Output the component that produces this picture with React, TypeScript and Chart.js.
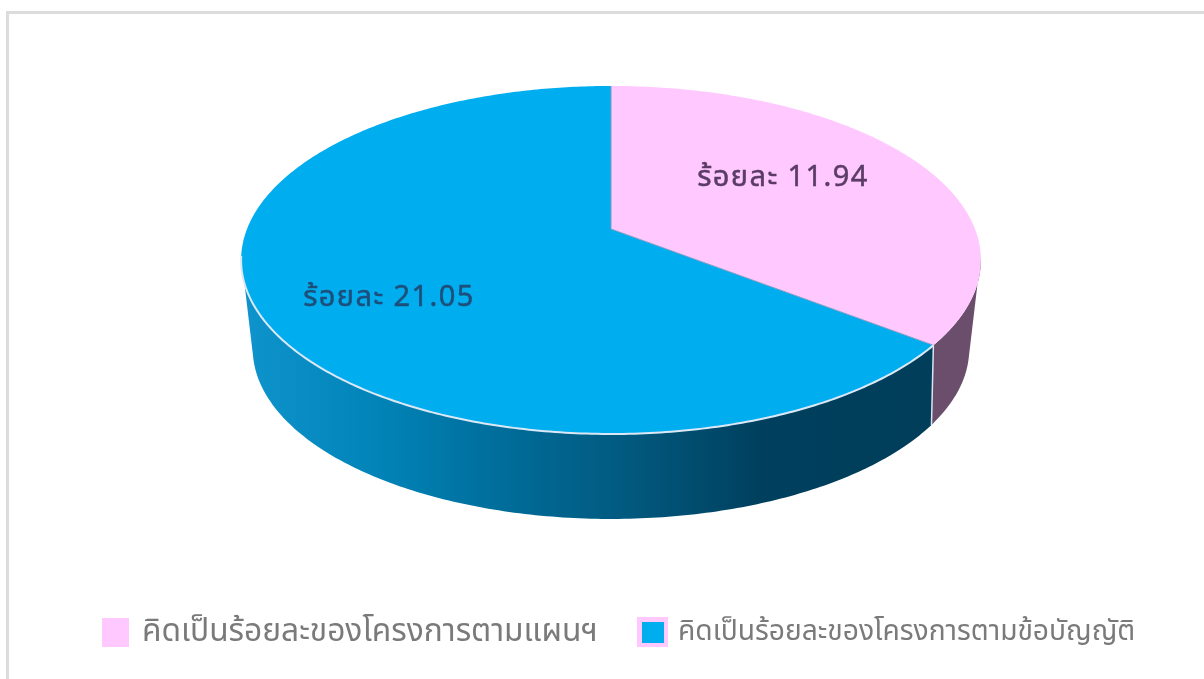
import React, { useEffect, useRef } from "react";
import { Chart, registerables } from "chart.js";

Chart.register(...registerables);

const categories = ["คิดเป็นร้อยละของโครงการตามแผนฯ", "คิดเป็นร้อยละของโครงการตามข้อบัญญัติ"];
const percentValues = [11.94, 21.05];
const sliceColors = ["#ffc9ff", "#00aeef"];
const labelPrefix = "ร้อยละ";

const FONT = '"Noto Sans", "Noto Sans Thai", "Noto Sans Thai Looped", Tahoma, sans-serif';

// 3D view of the pie: projection of a unit circle on to a top and a bottom rim
const TOP = { cx: 611, vy: 229, a: 168.5, c: 0.178, d: 364, w: 2.4 };
const BOTTOM = { cx: 611, vy: 318.7, a: 164.6, c: 0.178, d: 352.5, w: 5 };

type Rim = typeof TOP;
function project(r: Rim, angle: number): [number, number] {
  const a = angle + Math.PI / 2;
  const t = a + (r.w * Math.PI * Math.sin(2 * a)) / 180;
  const u = Math.sin(t);
  const v = -Math.cos(t);
  const w = 1 - r.c * v;
  return [r.cx + (r.d * u) / w, r.vy + (r.a * v) / w];
}
function trace(ctx: CanvasRenderingContext2D, r: Rim, a0: number, a1: number, move: boolean) {
  const n = Math.max(2, Math.ceil(Math.abs(a1 - a0) * 90));
  for (let i = 0; i <= n; i++) {
    const [x, y] = project(r, a0 + ((a1 - a0) * i) / n);
    if (i === 0 && move) ctx.moveTo(x, y);
    else ctx.lineTo(x, y);
  }
}

// Chart-angle of the silhouette on each side (0 = 3 o'clock in Chart.js terms)
const TOP_TANGENT = 0.17;
const BOTTOM_TANGENT = 0.29;

const LEGEND = [
  { box: [102, 618, 27, 29], inner: null, textX: 142, size: 31.7 },
  { box: [637, 617, 31, 30], inner: [642, 622, 22, 21], textX: 678, size: 28.2 },
];

const pie3d = {
  id: "pie3d",
  beforeDatasetsDraw(chart: any) {
    const ctx: CanvasRenderingContext2D = chart.ctx;
    const arcs = chart.getDatasetMeta(0).data;
    const pink = arcs[0];
    const blue = arcs[1];

    ctx.save();
    // frame of the picture
    ctx.fillStyle = "#dcdcdc";
    ctx.fillRect(6, 11, 1198, 3);
    ctx.fillRect(6, 11, 3, 668);

    // side walls
    const boundary = pink.endAngle;
    const wall = (t0: number, t1: number, b0: number, b1: number, fill: any) => {
      ctx.beginPath();
      trace(ctx, TOP, t0, t1, true);
      trace(ctx, BOTTOM, b1, b0, false);
      ctx.closePath();
      ctx.fillStyle = fill;
      ctx.fill();
    };
    const g = ctx.createLinearGradient(245, 0, 930, 0);
    g.addColorStop(0, "#0e93cc");
    g.addColorStop(0.2, "#0183b7");
    g.addColorStop(0.4, "#006a96");
    g.addColorStop(0.55, "#025a80");
    g.addColorStop(0.75, "#00405e");
    g.addColorStop(1, "#003e5a");
    wall(boundary, Math.PI - TOP_TANGENT, boundary, Math.PI - BOTTOM_TANGENT, g);
    wall(TOP_TANGENT, boundary, BOTTOM_TANGENT, boundary, "#6b4d6c");

    // boundary between the walls
    const [tx, ty] = project(TOP, boundary);
    const [bx, by] = project(BOTTOM, boundary);
    ctx.strokeStyle = "#d9e3f2";
    ctx.lineWidth = 1.5;
    ctx.beginPath();
    ctx.moveTo(tx, ty);
    ctx.lineTo(bx, by);
    ctx.stroke();

    // top face
    for (const arc of [blue, pink]) {
      ctx.beginPath();
      ctx.moveTo(TOP.cx, TOP.vy);
      trace(ctx, TOP, arc.startAngle, arc.endAngle, false);
      ctx.closePath();
      ctx.fillStyle = arc.options.backgroundColor;
      ctx.fill();
    }

    // slice edges
    ctx.strokeStyle = "#7f9cc4";
    ctx.lineWidth = 1;
    ctx.beginPath();
    ctx.moveTo(TOP.cx, project(TOP, pink.startAngle)[1]);
    ctx.lineTo(TOP.cx, TOP.vy);
    ctx.lineTo(tx, ty);
    ctx.stroke();

    // light rim along the front of the blue slice
    ctx.strokeStyle = "#dbe8f6";
    ctx.lineWidth = 2;
    ctx.beginPath();
    trace(ctx, TOP, boundary, Math.PI - TOP_TANGENT, true);
    ctx.stroke();

    // value labels
    ctx.font = `29px ${FONT}`;
    (ctx as any).letterSpacing = "1.4px";
    ctx.textAlign = "center";
    ctx.textBaseline = "middle";
    ctx.lineWidth = 0.5;
    const valueLabel = (i: number, color: string, x: number, y: number) => {
      const s = `${labelPrefix} ${percentValues[i].toFixed(2)}`;
      ctx.fillStyle = color;
      ctx.strokeStyle = color;
      ctx.fillText(s, x, y);
      ctx.strokeText(s, x, y);
    };
    valueLabel(0, "#5a3c66", 783, 178);
    valueLabel(1, "#1e4f7a", 389, 298);
    (ctx as any).letterSpacing = "0px";

    // legend
    ctx.textAlign = "left";
    LEGEND.forEach((item, i) => {
      ctx.fillStyle = sliceColors[0];
      const [x, y, w, h] = item.box;
      ctx.fillRect(x, y, w, h);
      if (item.inner) {
        ctx.fillStyle = sliceColors[i];
        const [ix, iy, iw, ih] = item.inner;
        ctx.fillRect(ix, iy, iw, ih);
      }
      ctx.font = `${item.size}px ${FONT}`;
      ctx.fillStyle = "#7a7a7a";
      ctx.fillText(categories[i], item.textX, 632);
    });
    ctx.restore();
    return false;
  },
};

export default function App() {
  const ref = useRef<HTMLCanvasElement>(null);
  useEffect(() => {
    document.body.style.margin = "0";
    const chart = new Chart(ref.current!, {
      type: "pie",
      data: {
        labels: categories,
        datasets: [{ data: percentValues, backgroundColor: sliceColors, borderWidth: 0 }],
      },
      options: {
        animation: false,
        responsive: false,
        plugins: {
          title: { display: false },
          tooltip: { enabled: false },
          legend: { display: false },
        },
      },
      plugins: [pie3d],
    } as any);
    return () => chart.destroy();
  }, []);
  return <canvas ref={ref} width={1204} height={679} style={{ display: "block", width: 1204, height: 679 }} />;
}
